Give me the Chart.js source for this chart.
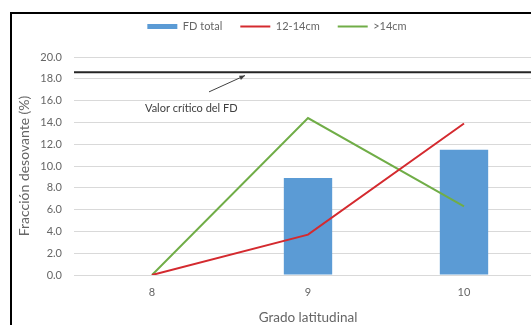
<!DOCTYPE html>
<html>
<head>
<meta charset="utf-8">
<script src="https://cdn.jsdelivr.net/npm/chart.js@4.4.0/dist/chart.umd.min.js"></script>
<style>
  html, body { margin: 0; padding: 0; background: #fff; overflow: hidden; width: 531px; height: 325px; }
  #frame { position: absolute; left: 10px; top: 12px; width: 521px; height: 313px; border-left: 2px solid #000; border-top: 2px solid #000; background: #fff; overflow: hidden; }
  canvas { display: block; }
</style>
</head>
<body>
<div id="frame"><canvas id="myChart" width="536" height="320"></canvas></div>
<script>
// categorias (grado latitudinal)
const grados = ['8', '9', '10'];
// series (%)
const fdTotal = [0, 8.9, 11.5];
const talla12a14 = [0, 3.7, 13.9];
const tallaMayor14 = [0, 14.4, 6.3];
// eje y
const yMin = 0;
const yMax = 20;
const yStep = 2;
// valor critico del FD
const valorCritico = 18.6;
const textoCritico = 'Valor crítico del FD';

const gris = '#666666';
const fuente = 'Lato, "Open Sans", sans-serif';

// linea horizontal del valor critico + flecha y texto
const criticoPlugin = {
  id: 'critico',
  beforeDatasetsDraw(chart) {
    const { ctx, chartArea, scales: { y } } = chart;
    const py = y.getPixelForValue(valorCritico);
    ctx.save();
    ctx.strokeStyle = '#262626';
    ctx.lineWidth = 2;
    ctx.beginPath();
    ctx.moveTo(chartArea.left, py);
    ctx.lineTo(chartArea.right, py);
    ctx.stroke();

    // flecha hacia la linea
    const x0 = chartArea.left + 135, y0 = y.getPixelForValue(16.8);
    const x1 = chartArea.left + 171, y1 = y.getPixelForValue(18.3);
    ctx.lineWidth = 1;
    ctx.strokeStyle = '#404040';
    ctx.fillStyle = '#404040';
    ctx.beginPath();
    ctx.moveTo(x0, y0);
    ctx.lineTo(x1, y1);
    ctx.stroke();
    const ang = Math.atan2(y1 - y0, x1 - x0);
    ctx.beginPath();
    ctx.moveTo(x1, y1);
    ctx.lineTo(x1 - 6 * Math.cos(ang - 0.4), y1 - 6 * Math.sin(ang - 0.4));
    ctx.lineTo(x1 - 6 * Math.cos(ang + 0.4), y1 - 6 * Math.sin(ang + 0.4));
    ctx.closePath();
    ctx.fill();

    ctx.font = '11px ' + fuente;
    ctx.textBaseline = 'middle';
    ctx.textAlign = 'left';
    ctx.fillText(textoCritico, chartArea.left + 71, y.getPixelForValue(15.3));
    ctx.restore();
  }
};

// separacion extra bajo la leyenda
const legendGap = {
  id: 'legendGap',
  beforeInit(chart) {
    const fit = chart.legend.fit;
    chart.legend.fit = function () {
      fit.call(this);
      this.height += 15;
    };
  }
};

new Chart('myChart', {
  type: 'bar',
  data: {
    labels: grados,
    datasets: [
      {
        label: 'FD total',
        data: fdTotal,
        backgroundColor: '#5B9BD5',
        borderWidth: 0,
        pointStyle: 'rect',
        barPercentage: 0.31,
        categoryPercentage: 1,
        order: 1
      },
      {
        type: 'line',
        label: '12-14cm',
        data: talla12a14,
        borderColor: '#D42A2F',
        backgroundColor: '#D42A2F',
        borderWidth: 2,
        pointRadius: 0,
        pointBorderWidth: 2,
        pointStyle: 'line',
        tension: 0,
        order: 0
      },
      {
        type: 'line',
        label: '>14cm',
        data: tallaMayor14,
        borderColor: '#70AD47',
        backgroundColor: '#70AD47',
        borderWidth: 2,
        pointRadius: 0,
        pointBorderWidth: 2,
        pointStyle: 'line',
        tension: 0,
        order: 0
      }
    ]
  },
  options: {
    responsive: false,
    animation: false,
    layout: { padding: { top: -11, right: 6, bottom: 4, left: 0 } },
    plugins: {
      legend: {
        position: 'top',
        labels: {
          usePointStyle: true,
          pointStyleWidth: 30,
          boxHeight: 5,
          padding: 18,
          color: gris,
          font: { family: fuente, size: 11 },
          sort: (a, b) => a.datasetIndex - b.datasetIndex
        }
      },
      tooltip: { enabled: false }
    },
    scales: {
      x: {
        grid: { display: false },
        border: { display: false },
        ticks: { color: gris, padding: 3, font: { family: fuente, size: 11 } },
        title: { display: true, text: 'Grado latitudinal', color: gris, font: { family: fuente, size: 13.5 } },
        afterFit(s) { s.height = 55; }
      },
      y: {
        min: yMin,
        max: yMax,
        grid: { color: '#D9D9D9', drawTicks: false },
        border: { display: false },
        ticks: {
          stepSize: yStep,
          padding: 12,
          color: gris,
          font: { family: fuente, size: 11 },
          callback: v => v.toFixed(1)
        },
        title: { display: true, text: 'Fracción desovante (%)', color: gris, font: { family: fuente, size: 14 } },
        afterFit(s) { s.width = 62; }
      }
    }
  },
  plugins: [criticoPlugin, legendGap]
});
</script>
</body>
</html>
